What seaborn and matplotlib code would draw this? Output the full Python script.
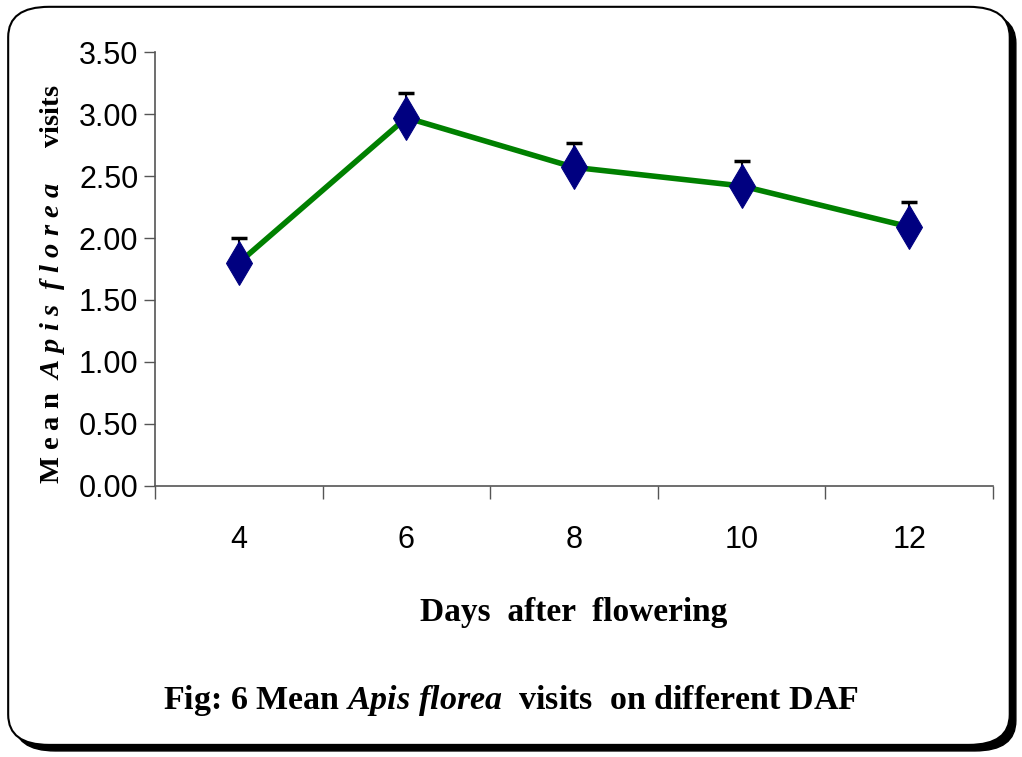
import numpy as np
import pandas as pd
import matplotlib
matplotlib.use('Agg')
import matplotlib.pyplot as plt
import seaborn as sns
from matplotlib.patches import FancyBboxPatch

days = ['4', '6', '8', '10', '12']
mean_visits = [1.80, 2.97, 2.57, 2.42, 2.09]
err_upper = [0.20, 0.20, 0.20, 0.20, 0.20]
y_ticks = [0.0, 0.5, 1.0, 1.5, 2.0, 2.5, 3.0, 3.5]

df = pd.DataFrame({'pos': np.arange(len(days)), 'mean': mean_visits})

sns.set_style('white')
plt.rcParams['font.family'] = ['Liberation Sans Narrow', 'Liberation Sans', 'DejaVu Sans']
plt.rcParams['mathtext.fontset'] = 'custom'
plt.rcParams['mathtext.it'] = 'Liberation Serif:italic:bold'
plt.rcParams['mathtext.rm'] = 'Liberation Serif:bold'
plt.rcParams['text.color'] = 'black'
plt.rcParams['axes.labelcolor'] = 'black'
plt.rcParams['xtick.color'] = 'black'
plt.rcParams['ytick.color'] = 'black'

fig = plt.figure(figsize=(10.22, 7.57), dpi=100)

# rounded frame with shadow
shadow = FancyBboxPatch((0.014, 0.008), 0.98, 0.975, boxstyle='round,pad=0,rounding_size=0.04',
                        transform=fig.transFigure, facecolor='black', edgecolor='black', lw=1, zorder=-2)
frame = FancyBboxPatch((0.008, 0.016), 0.98, 0.975, boxstyle='round,pad=0,rounding_size=0.04',
                       transform=fig.transFigure, facecolor='white', edgecolor='black', lw=1.5, zorder=-1)
fig.patches.extend([shadow, frame])

ax = fig.add_axes([0.1517, 0.358, 0.82, 0.5733])
ax.set_zorder(2)
ax.set_facecolor('none')

ax.errorbar(df['pos'], df['mean'], yerr=[np.zeros(len(days)), err_upper], fmt='none',
            ecolor='black', elinewidth=1.5, capsize=6, capthick=2.5, zorder=2)
sns.lineplot(data=df, x='pos', y='mean', color='#008000', linewidth=4, marker='d',
             markersize=22, markerfacecolor='#000080', markeredgecolor='#000080', ax=ax, zorder=3)

ax.set_xlim(-0.5, len(days) - 0.5)
ax.set_ylim(0, 3.5)
ax.set_yticks(y_ticks)
ax.set_yticklabels([f'{v:.2f}' for v in y_ticks], fontsize=22)
ax.set_xticks(np.arange(-0.5, len(days), 1.0))
ax.set_xticklabels([])
ax.set_xticks(np.arange(len(days)), minor=True)
ax.set_xticklabels(days, minor=True, fontsize=22)
ax.tick_params(axis='x', which='major', bottom=True, direction='out', length=9,
               color='#555555', width=1)
ax.tick_params(axis='x', which='minor', bottom=True, length=0, pad=28)
ax.tick_params(axis='y', left=True, direction='out', length=8, color='#555555', width=1, pad=4)
for s in ['top', 'right']:
    ax.spines[s].set_visible(False)
for s in ['left', 'bottom']:
    ax.spines[s].set_color('#555555')
    ax.spines[s].set_linewidth(1.2)

ax.set_xlabel('Days  after  flowering', fontsize=24, fontweight='bold',
              family='Liberation Serif', labelpad=30)
ax.set_ylabel(r'M e a n  $A\ p\ i\ s\ \ f\ l\ o\ r\ e\ a$     visits', fontsize=20.5,
              fontweight='bold', family='Liberation Serif')
ax.yaxis.set_label_coords(-0.105, 0.465)

fig.text(0.5, 0.063, r'Fig: 6 Mean $Apis\ florea$  visits  on different DAF', ha='center',
         fontsize=24.5, fontweight='bold', family='Liberation Serif')

fig.savefig('out.png', dpi=100)
